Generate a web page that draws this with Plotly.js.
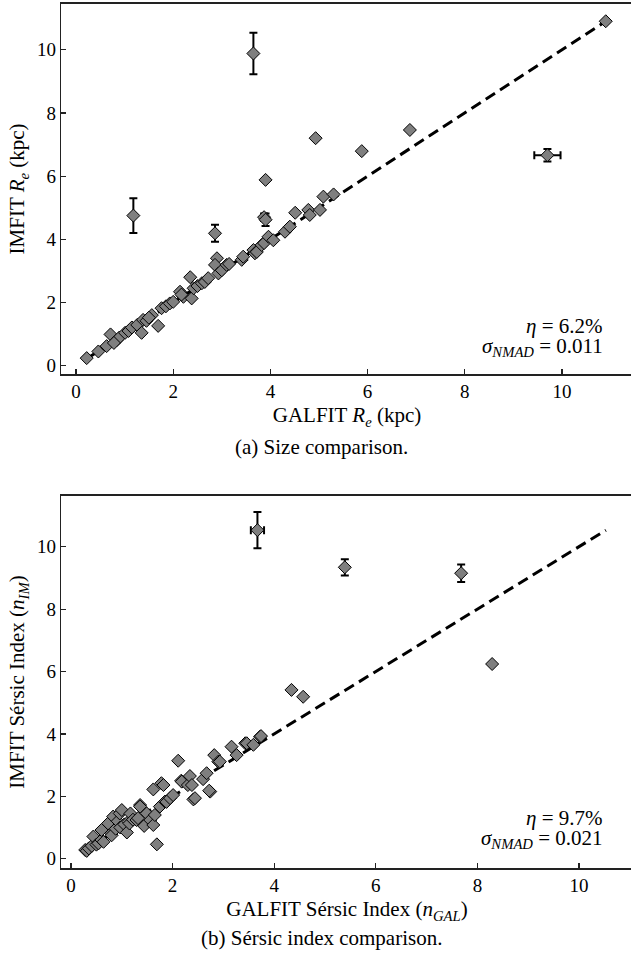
<!DOCTYPE html>
<html>
<head>
<meta charset="utf-8">
<script src="https://cdn.plot.ly/plotly-3.0.1.min.js"></script>
<style>html,body{margin:0;padding:0;overflow:hidden;background:#fff;}</style>
</head>
<body>
<div id="chart"></div>
<script>
// ---- (a) Size comparison: GALFIT Re vs IMFIT Re (kpc) ----
const sizeGal = [0.22,0.46,0.63,0.71,0.84,0.89,0.78,1.01,1.08,1.15,1.26,1.35,1.38,1.45,1.56,1.50,1.69,1.76,1.85,1.93,2.00,2.14,2.21,2.17,2.35,2.38,2.42,2.50,2.59,2.65,2.72,2.90,2.86,2.93,3.00,3.10,3.15,3.41,3.44,3.65,3.68,3.72,3.82,3.87,3.96,4.06,4.30,4.40,4.51,4.78,4.81,5.02,5.09,5.30,3.90,4.93,5.88,6.87,10.90];
const sizeIm  = [0.24,0.45,0.62,0.99,0.81,0.89,0.72,1.04,1.10,1.21,1.29,1.04,1.45,1.42,1.60,1.52,1.26,1.82,1.88,1.97,2.02,2.34,2.18,2.25,2.80,2.13,2.45,2.52,2.61,2.65,2.77,3.40,3.19,2.92,3.02,3.19,3.22,3.35,3.45,3.66,3.56,3.60,3.82,3.88,4.08,3.97,4.24,4.40,4.84,4.93,4.77,4.93,5.35,5.42,5.88,7.20,6.79,7.46,10.90];
// points with visible error bars
const sizeErrGal  = [1.18,3.65,2.86,3.87,3.90,9.70];
const sizeErrIm   = [4.75,9.88,4.19,4.70,4.62,6.66];
const sizeErrGalE = [0,0,0,0,0,0.27];
const sizeErrImE  = [0.55,0.66,0.27,0.12,0.20,0.20];
const sizeStats = ["<i>η</i> = 6.2%", "<i>σ<sub>NMAD</sub></i> = 0.011"];

// ---- (b) Sérsic index comparison ----
const nGal = [0.28,0.31,0.35,0.41,0.44,0.50,0.54,0.60,0.64,0.60,0.73,0.79,0.80,0.83,0.88,0.92,0.97,0.96,1.00,1.05,1.10,1.13,1.15,1.17,1.22,1.29,1.32,1.36,1.36,1.44,1.49,1.56,1.62,1.65,1.62,1.69,1.75,1.78,1.82,1.85,1.88,1.95,2.01,2.11,2.17,2.18,2.30,2.34,2.38,2.41,2.44,2.60,2.67,2.74,2.72,2.82,2.90,2.93,3.16,3.26,3.43,3.46,3.59,3.72,3.74,4.34,4.57,8.29];
const nIm  = [0.28,0.25,0.33,0.41,0.71,0.45,0.49,0.60,0.54,0.92,1.13,0.81,0.75,1.35,0.96,1.20,1.00,1.45,1.56,1.10,0.84,1.19,1.13,1.45,1.25,1.24,1.30,1.72,1.67,1.05,1.45,1.24,1.08,1.40,2.22,0.46,1.67,2.42,2.36,1.83,1.82,1.94,2.04,3.14,2.50,2.47,2.36,2.65,2.36,1.90,1.94,2.55,2.74,2.15,2.18,3.32,3.11,3.11,3.59,3.32,3.70,3.70,3.65,3.91,3.93,5.41,5.19,6.24];
const nErrGal  = [3.67,5.39,7.68];
const nErrIm   = [10.53,9.34,9.15];
const nErrGalE = [0.13,0,0];
const nErrImE  = [0.58,0.26,0.28];
const nStats = ["<i>η</i> = 9.7%", "<i>σ<sub>NMAD</sub></i> = 0.021"];

const captions = ["(a) Size comparison.", "(b) Sérsic index comparison."];
const xTitles = ["GALFIT <i>R<sub>e</sub></i> (kpc)", "GALFIT Sérsic Index (<i>n<sub>GAL</sub></i>)"];
const yTitles = ["IMFIT <i>R<sub>e</sub></i> (kpc)", "IMFIT Sérsic Index (<i>n<sub>IM</sub></i>)"];

// ---- build ----
const W = 645, H = 955;
const FONT = "Liberation Serif, Times New Roman, serif";
const TXT = 21;
const markerStyle = {symbol:'diamond', size:10, color:'#7f7f7f', line:{color:'#000', width:1}};

function oneToOne(xs, ys) {
  const all = xs.concat(ys);
  const lo = Math.min(...all), hi = Math.max(...all);
  return [lo, hi];
}

function panelTraces(gx, gy, ex, ey, exE, eyE, xa, ya) {
  const l = oneToOne(gx.concat(ex), gy.concat(ey));
  return [
    {x:l, y:l, xaxis:xa, yaxis:ya, mode:'lines', type:'scatter',
     line:{color:'#000', width:3, dash:'11px,6px'}, hoverinfo:'skip'},
    {x:gx, y:gy, xaxis:xa, yaxis:ya, mode:'markers', type:'scatter', marker:markerStyle},
    {x:ex, y:ey, xaxis:xa, yaxis:ya, mode:'markers', type:'scatter', marker:markerStyle,
     error_y:{type:'data', array:eyE, visible:true, color:'#000', thickness:2, width:4},
     error_x:{type:'data', array:exE, visible:true, color:'#000', thickness:2, width:4}}
  ];
}

const data = [].concat(
  panelTraces(sizeGal, sizeIm, sizeErrGal, sizeErrIm, sizeErrGalE, sizeErrImE, 'x', 'y'),
  panelTraces(nGal, nIm, nErrGal, nErrIm, nErrGalE, nErrImE, 'x2', 'y2')
);

const xd = [61/W, 633/W];
function axis(extra) {
  return Object.assign({
    showgrid:false, zeroline:false, showline:true, mirror:true,
    linecolor:'#222', linewidth:1.3, ticks:'inside', ticklen:5, tickwidth:1.2,
    tickcolor:'#222', dtick:2, tick0:0,
    tickfont:{family:FONT, size:19, color:'#000'}
  }, extra);
}

function ann(text, xpx, ypx, anchor) {
  return {text:text, xref:'paper', yref:'paper', x:xpx/W, y:1-ypx/H,
    xanchor:anchor, yanchor:'middle', showarrow:false, font:{family:FONT, size:TXT, color:'#000'}};
}

const layout = {
  width:W, height:H, showlegend:false,
  margin:{l:0, r:0, t:0, b:0},
  paper_bgcolor:'#fff', plot_bgcolor:'#fff',
  font:{family:FONT, color:'#000'},
  xaxis: axis({domain:xd, range:[-0.309, 11.461], anchor:'y',
    title:{text:xTitles[0], font:{family:FONT, size:TXT}, standoff:6}}),
  yaxis: axis({domain:[(H-374.3)/H, (H-3.5)/H], range:[-0.272, 11.462], anchor:'x',
    title:{text:yTitles[0], font:{family:FONT, size:TXT}, standoff:6}}),
  xaxis2: axis({domain:xd, range:[-0.197, 11.063], anchor:'y2',
    title:{text:xTitles[1], font:{family:FONT, size:TXT}, standoff:6}}),
  yaxis2: axis({domain:[(H-868.3)/H, (H-495.7)/H], range:[-0.308, 11.635], anchor:'x2',
    title:{text:yTitles[1], font:{family:FONT, size:TXT}, standoff:6}}),
  annotations: [
    ann(sizeStats[0], 605, 326, 'right'),
    ann(sizeStats[1], 605, 347, 'right'),
    ann(nStats[0], 605, 818, 'right'),
    ann(nStats[1], 605, 839, 'right'),
    ann(captions[0], 321, 447, 'center'),
    ann(captions[1], 321, 938, 'center')
  ]
};

Plotly.newPlot('chart', data, layout, {displayModeBar:false, staticPlot:true});
</script>
</body>
</html>
